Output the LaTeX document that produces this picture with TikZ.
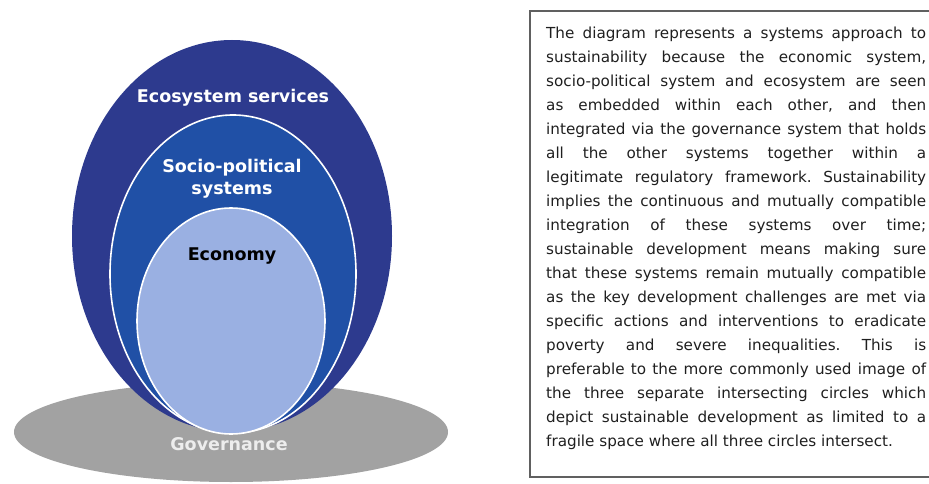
\documentclass[tikz,border=0pt]{standalone}
\usepackage{fontspec}
\setmainfont{DejaVu Sans}

\definecolor{ecoblue}{HTML}{2D3A8E}
\definecolor{socblue}{HTML}{2050A6}
\definecolor{econblue}{HTML}{9AB0E2}
\definecolor{govgray}{HTML}{A2A2A2}

\tikzset{
    layer/.style={draw=white, line width=1.6pt},
    lbl/.style={font=\bfseries\fontsize{17.5}{22}\selectfont, text=white, align=center, inner sep=0pt},
}
\newcommand{\jline}[1]{\makebox[380pt][s]{\frenchspacing\spaceskip=0.32em plus 1fil\relax #1}\\}

\begin{document}
\begin{tikzpicture}[x=1pt,y=-1pt]
        \useasboundingbox (0,0) rectangle (929,484);
        % nested systems standing on governance
        \fill[govgray] (231,432) ellipse [x radius=217, y radius=50];
        \fill[ecoblue] (232,236) ellipse [x radius=160, y radius=196];
        \filldraw[layer, fill=socblue] (233,274) ellipse [x radius=123, y radius=159];
        \filldraw[layer, fill=econblue] (231,321) ellipse [x radius=94, y radius=113];
        \node[lbl] (eco) at (233,98) {Ecosystem services};
        \node[lbl] (soc) at (232,179) {Socio-political\\systems};
        \node[lbl, text=black] (econ) at (232,256) {Economy};
        \node[lbl, text=white!93!black] (gov) at (229,444) {Governance};
        % description box, open on the right
        \draw[gray!75!black, line width=1.3pt] (929,11) -- (530,11) -- (530,477) -- (929,477);
        \node[anchor=north west, inner sep=0pt, text width=380pt, align=justify, text=black!88,
              font=\fontsize{15.2}{24}\selectfont] (desc) at (546,27) {%
            \jline{The diagram represents a systems approach to}
            \jline{sustainability because the economic system,}
            \jline{socio-political system and ecosystem are seen}
            \jline{as embedded within each other, and then}
            \jline{integrated via the governance system that holds}
            \jline{all the other systems together within a}
            \jline{legitimate regulatory framework. Sustainability}
            \jline{implies the continuous and mutually compatible}
            \jline{integration of these systems over time;}
            \jline{sustainable development means making sure}
            \jline{that these systems remain mutually compatible}
            \jline{as the key development challenges are met via}
            \jline{specific actions and interventions to eradicate}
            \jline{poverty and severe inequalities. This is}
            \jline{preferable to the more commonly used image of}
            \jline{the three separate intersecting circles which}
            \jline{depict sustainable development as limited to a}
            fragile space where all three circles intersect.};
\end{tikzpicture}
\end{document}
